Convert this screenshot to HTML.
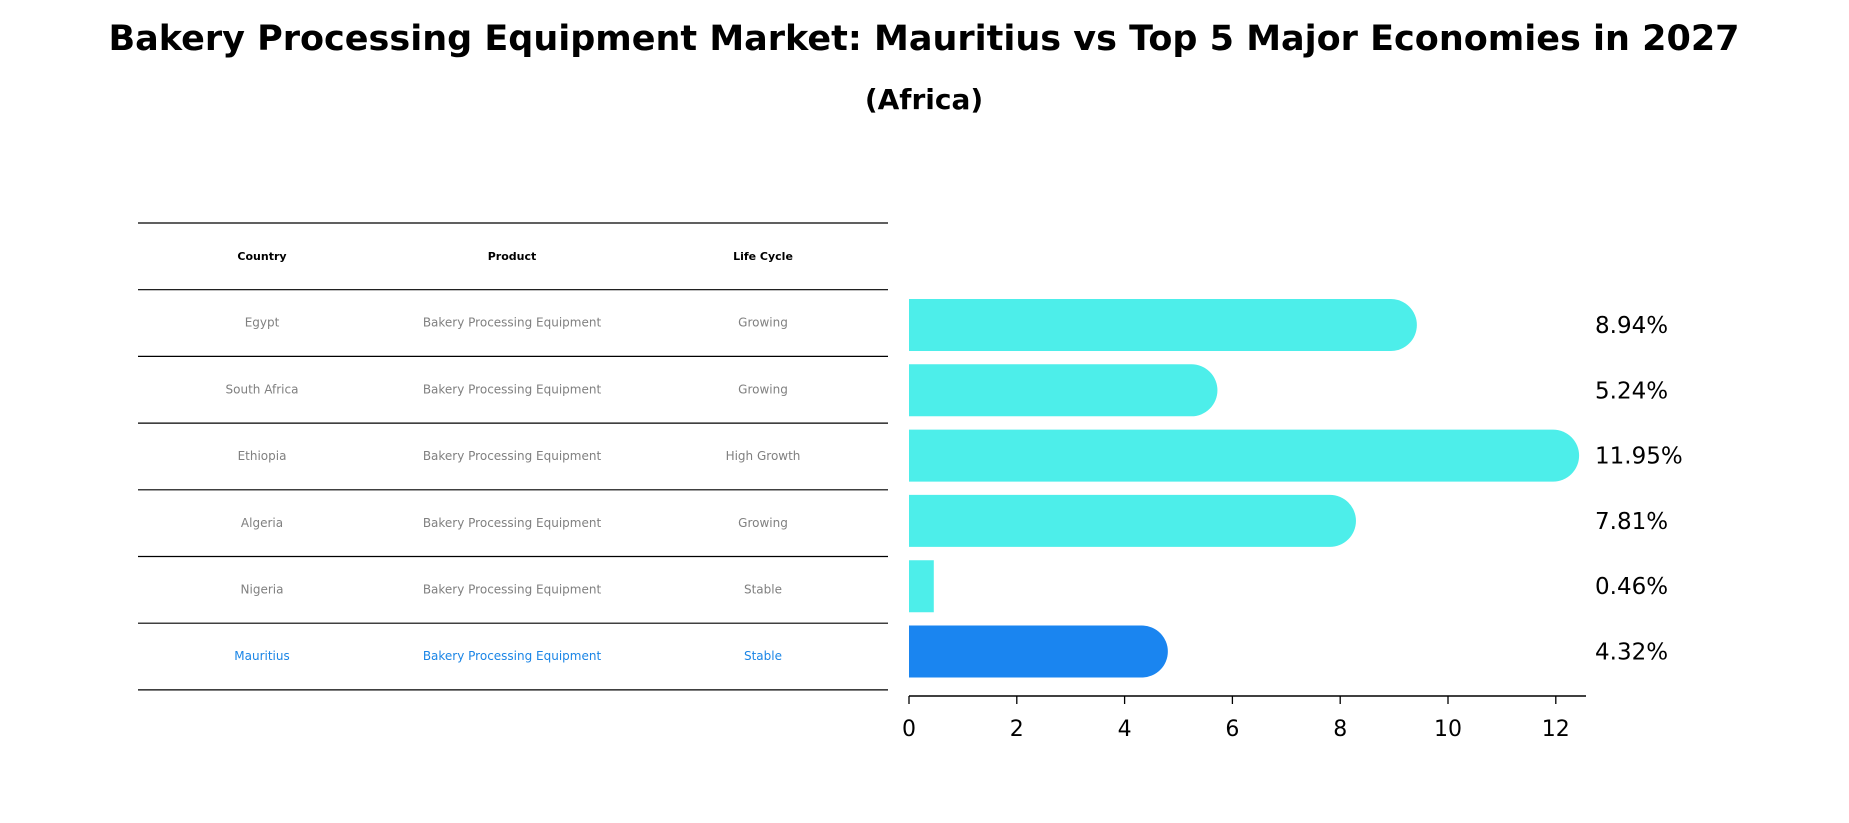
<!DOCTYPE html>
<html><head><meta charset="utf-8">
<style>
body{margin:0;background:#fff;}
svg{display:block;font-family:"DejaVu Sans","Liberation Sans",sans-serif;}
</style></head>
<body>
<svg id="chart" width="1849" height="823" viewBox="0 0 1849 823">
<text x="924" y="50" text-anchor="middle" font-size="35" font-weight="bold">Bakery Processing Equipment Market: Mauritius vs Top 5 Major Economies in 2027</text>
<text x="924" y="109" text-anchor="middle" font-size="28" font-weight="bold">(Africa)</text>
<g id="table"></g>
<g id="bars"></g>
</svg>
<script>
const countries=["Egypt","South Africa","Ethiopia","Algeria","Nigeria","Mauritius"];
const products=["Bakery Processing Equipment","Bakery Processing Equipment","Bakery Processing Equipment","Bakery Processing Equipment","Bakery Processing Equipment","Bakery Processing Equipment"];
const lifeCycles=["Growing","Growing","High Growth","Growing","Stable","Stable"];
const values=[8.94,5.24,11.95,7.81,0.46,4.32];
const ticks=[0,2,4,6,8,10,12];
const NS="http://www.w3.org/2000/svg";
const svg=document.getElementById('chart');
const tbl=document.getElementById('table');
const bars=document.getElementById('bars');
function mk(tag,attrs,parent){const e=document.createElementNS(NS,tag);for(const k in attrs)e.setAttribute(k,attrs[k]);parent.appendChild(e);return e;}
const x=v=>909+v*53.9;
const rowY=i=>325+i*65.3;
const tableLineY=i=>223+i*66.7;
const colX=[262,512,763];
// table lines
for(let i=0;i<8;i++){
  const l=mk('line',{x1:138,x2:888,y1:tableLineY(i),y2:tableLineY(i),stroke:'#000','stroke-width':1.2},tbl);
  
  
}
const heads=["Country","Product","Life Cycle"];
heads.forEach((h,j)=>{
  const t=mk('text',{x:colX[j],y:260,'text-anchor':'middle','font-size':11,'font-weight':'bold'},tbl);
  t.textContent=h;
  
  
});
countries.forEach((c,i)=>{
  const y=tableLineY(i+1)+37;
  const col=i===countries.length-1?'#1a85e6':'#808080';
  [c,products[i],lifeCycles[i]].forEach((v,j)=>{
    const t=mk('text',{x:colX[j],y:y,'text-anchor':'middle','font-size':12,fill:col},tbl);
    t.textContent=v;
    
    
  });
});
// bars
const h=52,r=26;
values.forEach((v,i)=>{
  const cy=rowY(i),w=x(v)-x(0);
  const col=i===values.length-1?'#1a85f0':'#4deeea';
  let d;
  if(w>r) d=`M${x(0)},${cy-h/2} H${x(v)} A${r},${r} 0 0 1 ${x(v)},${cy+h/2} H${x(0)} Z`;
  else d=`M${x(0)},${cy-h/2} H${x(v)} V${cy+h/2} H${x(0)} Z`;
  const p=mk('path',{d:d,fill:col},bars);
  
  
  const t=mk('text',{x:1595,y:cy+8,'font-size':23},bars);
  t.textContent=v.toFixed(2)+'%';
  
  
});
const ax=mk('line',{x1:x(0),x2:1586,y1:696,y2:696,stroke:'#000','stroke-width':1.5},bars);


ticks.forEach(tk=>{
  const l=mk('line',{x1:x(tk),x2:x(tk),y1:696,y2:704,stroke:'#000','stroke-width':1.3},bars);
  
  
  const t=mk('text',{x:x(tk),y:736,'text-anchor':'middle','font-size':22},bars);
  t.textContent=tk;
  
  
});
</script>
</body></html>
